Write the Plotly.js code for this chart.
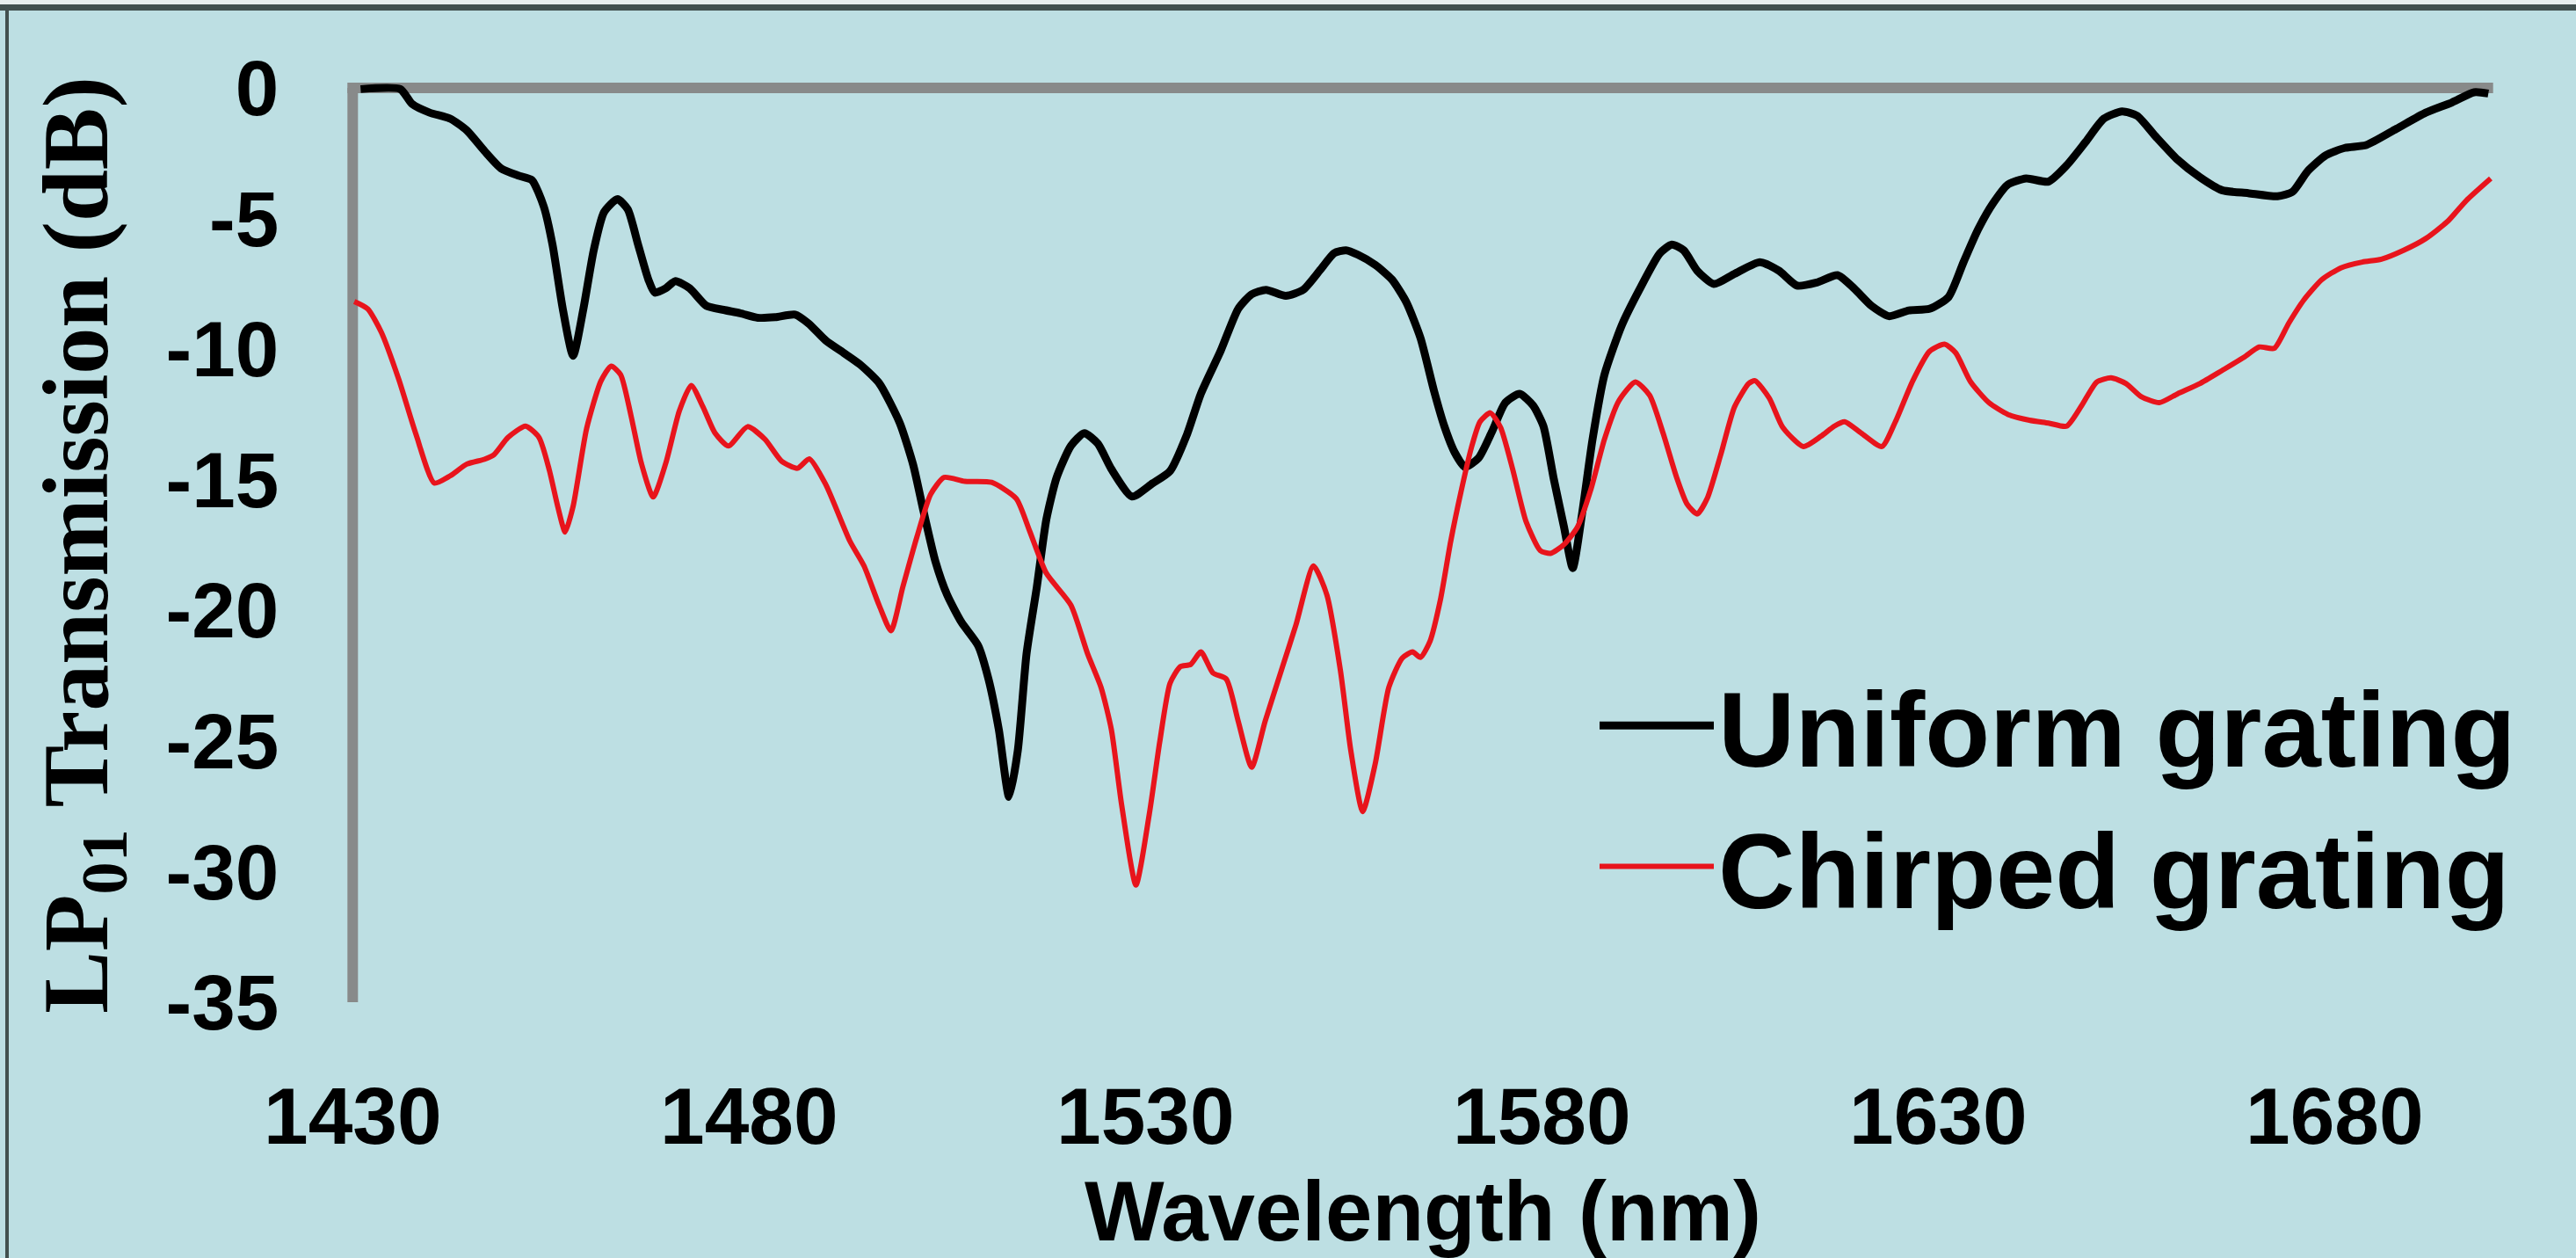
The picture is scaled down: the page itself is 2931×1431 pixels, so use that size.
<!DOCTYPE html>
<html>
<head>
<meta charset="utf-8">
<script src="https://cdn.plot.ly/plotly-3.0.1.min.js"></script>
<style>html,body{margin:0;padding:0;background:#bddfe3;}#chart{width:2931px;height:1431px;}</style>
</head>
<body>
<div id="chart"></div>
<script>
// ---- data ----
const uniformWavelength = [1431,1436,1437.5,1439.7,1442.3,1444.4,1446.6,1448.7,1450.9,1452.6,1454.1,1455.2,1456.5,1457.8,1459.1,1460.4,1461.7,1463.4,1464.7,1466.0,1467.3,1468.1,1469.5,1470.7,1472.5,1474.6,1476.8,1478.9,1481.1,1483.3,1485.8,1487.5,1489.7,1491.9,1494.0,1496.4,1499.0,1500.7,1502.0,1503.5,1505.0,1506.8,1508.9,1510.2,1511.5,1512.8,1513.9,1515.0,1516.3,1517.5,1518.8,1520.6,1522.3,1524.0,1525.7,1528.3,1530.9,1533.1,1535.2,1537.0,1539.5,1541.7,1543.4,1545.2,1547.7,1549.9,1552.1,1553.8,1555.3,1556.8,1559.0,1561.1,1562.9,1564.7,1566.4,1567.7,1569.0,1570.3,1572.0,1573.7,1575.4,1577.2,1578.9,1580.2,1581.5,1582.8,1583.9,1585.1,1586.4,1587.9,1590.1,1592.3,1594.9,1596.4,1597.9,1599.6,1601.7,1604.3,1607.5,1609.9,1612.2,1614.7,1617.3,1619.4,1621.6,1623.8,1626.3,1628.9,1631.3,1633.2,1635.0,1636.9,1638.8,1641.1,1643.9,1646.2,1648.6,1650.9,1653.2,1655.1,1657.4,1660.2,1663.0,1665.8,1669.1,1672.8,1674.7,1676.6,1678.9,1681.3,1684.0,1687.8,1691.5,1694.8,1697.6,1699.4];
const uniformTransmission = [-0.05,-0.05,-0.62,-0.95,-1.18,-1.63,-2.41,-3.08,-3.36,-3.53,-4.54,-6.0,-8.46,-10.26,-8.46,-6.22,-4.76,-4.26,-4.65,-6.0,-7.34,-7.84,-7.67,-7.4,-7.67,-8.34,-8.5,-8.63,-8.8,-8.78,-8.68,-9.02,-9.68,-10.14,-10.59,-11.3,-12.82,-14.43,-16.2,-18.12,-19.42,-20.46,-21.35,-22.63,-24.56,-27.14,-25.36,-21.66,-19.1,-16.52,-14.91,-13.7,-13.22,-13.62,-14.59,-15.64,-15.14,-14.67,-13.3,-11.7,-10.06,-8.46,-7.9,-7.73,-7.96,-7.73,-6.95,-6.33,-6.22,-6.39,-6.78,-7.34,-8.2,-9.58,-11.6,-12.95,-13.95,-14.51,-14.18,-13.17,-12.05,-11.71,-12.16,-12.95,-14.96,-16.81,-18.38,-16.25,-13.45,-10.98,-9.08,-7.73,-6.33,-6.0,-6.22,-7.0,-7.51,-7.12,-6.67,-7.0,-7.57,-7.45,-7.17,-7.68,-8.35,-8.74,-8.52,-8.46,-8.01,-6.67,-5.44,-4.43,-3.7,-3.47,-3.59,-2.97,-2.07,-1.18,-0.9,-1.07,-1.85,-2.75,-3.42,-3.92,-4.03,-4.15,-3.98,-3.19,-2.58,-2.3,-2.19,-1.57,-0.95,-0.56,-0.17,-0.22];

const chirpedWavelength = [1430.2,1431.9,1433.6,1435.8,1438.0,1440.3,1442.3,1444.4,1446.6,1447.8,1449.6,1451.8,1453.5,1454.8,1455.9,1456.8,1457.8,1459.5,1461.3,1462.6,1463.8,1465.1,1466.4,1467.9,1469.5,1471.2,1472.7,1474.2,1475.7,1477.4,1479.8,1482.0,1484.1,1486.1,1487.6,1489.7,1492.7,1494.5,1496.4,1497.9,1499.4,1501.2,1502.9,1504.6,1507.2,1510.6,1513.7,1515.4,1517.5,1520.6,1522.7,1524.4,1525.7,1527.0,1528.8,1530.5,1531.8,1533.1,1534.4,1535.7,1537.0,1538.5,1540.2,1541.7,1543.4,1545.1,1547.3,1549.0,1551.2,1552.9,1554.6,1555.9,1557.4,1559.0,1560.7,1562.4,1563.7,1564.7,1565.9,1567.2,1568.5,1569.8,1571.1,1572.2,1573.5,1574.8,1576.3,1578.0,1579.8,1581.1,1582.8,1584.5,1586.2,1587.9,1589.7,1591.8,1593.6,1595.3,1597.0,1598.3,1599.6,1600.9,1602.6,1604.3,1606.1,1606.9,1608.7,1610.4,1613.0,1615.2,1616.9,1618.2,1620.3,1622.9,1624.6,1626.8,1628.9,1630.8,1632.2,1634.1,1636.4,1638.8,1641.5,1643.9,1646.2,1648.1,1650.0,1651.8,1653.7,1655.6,1657.9,1660.2,1663.0,1665.8,1668.6,1670.5,1672.4,1674.2,1676.1,1678.4,1680.8,1683.5,1685.9,1688.7,1691.5,1694.3,1696.6,1699.7];
const chirpedTransmission = [-8.18,-8.46,-9.35,-11.15,-13.28,-15.13,-14.85,-14.4,-14.22,-14.05,-13.38,-12.95,-13.38,-14.63,-16.07,-17.0,-16.02,-13.05,-11.23,-10.65,-10.98,-12.54,-14.36,-15.66,-14.36,-12.37,-11.39,-12.22,-13.21,-13.71,-12.97,-13.45,-14.29,-14.56,-14.2,-15.2,-17.34,-18.3,-19.8,-20.78,-19.1,-17.16,-15.56,-14.91,-15.06,-15.1,-15.72,-16.97,-18.58,-19.8,-21.66,-22.95,-24.56,-27.45,-30.51,-27.77,-25.04,-22.79,-22.15,-22.07,-21.59,-22.39,-22.63,-24.24,-26.0,-24.24,-22.15,-20.54,-18.3,-19.42,-22.31,-25.36,-27.7,-25.85,-22.95,-21.82,-21.59,-21.8,-21.18,-19.61,-17.37,-15.47,-13.79,-12.78,-12.44,-13.0,-14.57,-16.59,-17.71,-17.82,-17.48,-16.81,-15.36,-13.45,-11.99,-11.26,-11.77,-13.22,-14.91,-15.92,-16.31,-15.69,-14.01,-12.22,-11.32,-11.21,-11.88,-13.0,-13.73,-13.34,-12.95,-12.78,-13.22,-13.73,-12.78,-11.21,-10.09,-9.81,-10.14,-11.26,-12.05,-12.5,-12.72,-12.83,-12.95,-12.16,-11.26,-11.1,-11.32,-11.82,-12.05,-11.71,-11.32,-10.82,-10.31,-9.92,-9.97,-9.02,-8.13,-7.34,-6.89,-6.67,-6.56,-6.22,-5.77,-5.1,-4.32,-3.47];

const seriesNames = ['Uniform grating', 'Chirped grating'];
const xTickValues = [1430, 1480, 1530, 1580, 1630, 1680];
const xTickLabels = ['1430', '1480', '1530', '1580', '1630', '1680'];
const yTickValues = [0, -5, -10, -15, -20, -25, -30, -35];
const yTickLabels = ['0', '-5', '-10', '-15', '-20', '-25', '-30', '-35'];
const xAxisTitle = 'Wavelength (nm)';
const yAxisTitle = 'LP<sub>01</sub> Transmission (dB)';

// ---- layout constants ----
const W = 2931, H = 1431;
const M = {l: 395, r: 88, t: 88, b: 279};
const plotW = W - M.l - M.r, plotH = H - M.t - M.b;
const xRange = [1429.3, 1700.7];
const yRange = [-35.4, 0.4];
const px2paperX = px => (px - M.l) / plotW;
const px2paperY = py => 1 - (py - M.t) / plotH;

const bg = '#bddfe3';
const axisGray = '#888a8a';
const sans = 'Liberation Sans, Arial, sans-serif';
const serif = 'Liberation Serif, Times New Roman, serif';

const traces = [
  {x: uniformWavelength, y: uniformTransmission, name: seriesNames[0], type: 'scatter', mode: 'lines',
   line: {color: '#000000', width: 9, shape: 'spline', smoothing: 0.6}},
  {x: chirpedWavelength, y: chirpedTransmission, name: seriesNames[1], type: 'scatter', mode: 'lines',
   line: {color: '#e8141c', width: 6, shape: 'spline', smoothing: 0.6}}
];

const layout = {
  width: W, height: H,
  margin: M,
  paper_bgcolor: bg, plot_bgcolor: bg,
  showlegend: true,
  legend: {
    x: px2paperX(1815), y: px2paperY(740), xanchor: 'left', yanchor: 'top',
    itemwidth: 130,
    bgcolor: 'rgba(0,0,0,0)', borderwidth: 0,
    font: {family: sans, size: 121, color: '#000', weight: 'bold'}
  },
  xaxis: {
    range: xRange, showgrid: false, zeroline: false, showline: false,
    tickmode: 'array', tickvals: xTickValues, ticktext: xTickLabels,
    ticks: 'outside', ticklen: 39, tickcolor: 'rgba(0,0,0,0)',
    tickfont: {family: sans, size: 91, color: '#000', weight: 'bold'},
    title: {text: xAxisTitle, standoff: 63, font: {family: sans, size: 96, color: '#000', weight: 'bold'}}
  },
  yaxis: {
    range: yRange, showgrid: false, zeroline: false, showline: false,
    tickmode: 'array', tickvals: yTickValues, ticktext: yTickLabels,
    ticks: 'outside', ticklen: 59, tickcolor: 'rgba(0,0,0,0)',
    tickfont: {family: sans, size: 89, color: '#000', weight: 'bold'},
    title: {text: yAxisTitle, standoff: 30, font: {family: serif, size: 106, color: '#000', weight: 'bold'}}
  },
  shapes: [
    // axis lines: top (at 0 dB) and left (at 1430 nm)
    {type: 'line', xref: 'x', yref: 'y', x0: 1429.33, x1: 1700, y0: 0, y1: 0, layer: 'below',
     line: {color: axisGray, width: 12}},
    {type: 'line', xref: 'x', yref: 'y', x0: 1430, x1: 1430, y0: 0, y1: -35, layer: 'below',
     line: {color: axisGray, width: 12}},
    // slide frame: top band and left line
    {type: 'rect', xref: 'paper', yref: 'paper', x0: px2paperX(0), x1: px2paperX(W), y0: px2paperY(0), y1: px2paperY(5),
     line: {width: 0}, fillcolor: '#e8eeee'},
    {type: 'rect', xref: 'paper', yref: 'paper', x0: px2paperX(0), x1: px2paperX(W), y0: px2paperY(5), y1: px2paperY(12),
     line: {width: 0}, fillcolor: '#42504f'},
    {type: 'rect', xref: 'paper', yref: 'paper', x0: px2paperX(6), x1: px2paperX(10), y0: px2paperY(12), y1: px2paperY(H),
     line: {width: 0}, fillcolor: '#42504f'}
  ]
};

Plotly.newPlot('chart', traces, layout, {displayModeBar: false, staticPlot: true});
</script>
</body>
</html>
